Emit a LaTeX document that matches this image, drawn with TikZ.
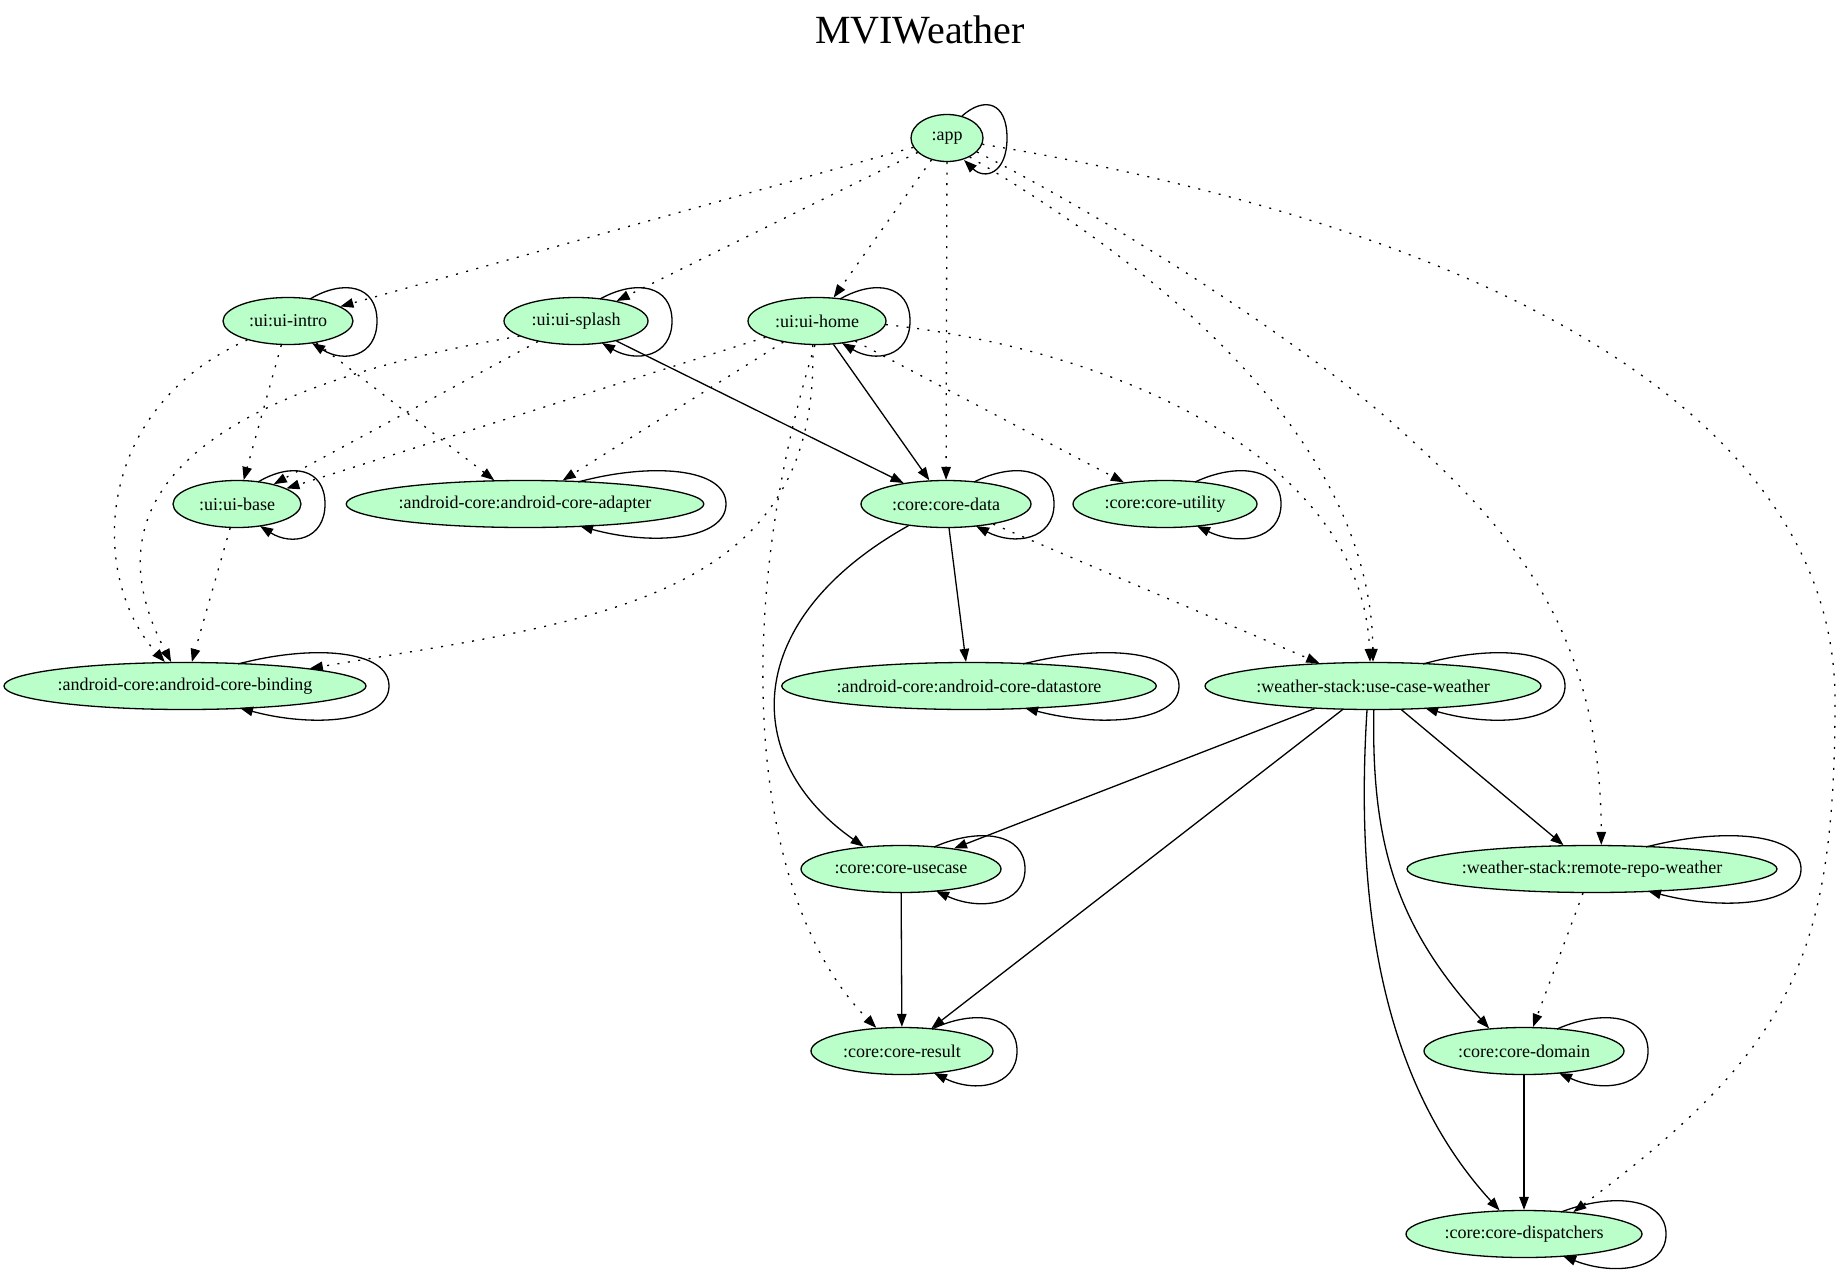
\documentclass[tikz,border=0pt]{standalone}
\usepackage{fontspec}
\setmainfont{Liberation Serif}
\usetikzlibrary{shapes.geometric,arrows.meta}
\definecolor{modfill}{HTML}{BAFFC9}
\newcommand{\selfloop}[3]{%
  \draw[soledge] ([shift={(#2,-22)}]#1.center)
    .. controls ([shift={({#2+0.5*(#3-#2)},-42)}]#1.center) and ([shift={(#3,-36)}]#1.center)
    .. ([shift={(#3,0)}]#1.center)
    .. controls ([shift={(#3,36)}]#1.center) and ([shift={({#2+0.5*(#3-#2)},42)}]#1.center)
    .. ([shift={({#2+2},22)}]#1.center);}
\begin{document}
\begin{tikzpicture}[x=1pt,y=-1pt,
  mod/.style={ellipse, draw, line width=1.3pt, fill=modfill, inner sep=0pt,
    minimum height=47pt, font=\fontsize{18}{21}\selectfont},
  soledge/.style={line width=1.3pt, -{Triangle[length=13pt,width=9.5pt]}},
  dotedge/.style={soledge, dash pattern=on 2pt off 8.5pt}]
\useasboundingbox (0,0) rectangle (1843,1274);
\fill[white] (0,0) rectangle (1843,1274);

\node[anchor=base, font=\fontsize{40}{48}\selectfont] (title) at (920,43) {MVIWeather};

\node[mod, minimum width=72pt]  (app)       at (947,138)  {:app};
\node[mod, minimum width=130pt] (intro)     at (288,321)  {:ui:ui-intro};
\node[mod, minimum width=144pt] (splash)    at (576,321)  {:ui:ui-splash};
\node[mod, minimum width=138pt] (home)      at (817,321)  {:ui:ui-home};
\node[mod, minimum width=128pt] (base)      at (237,504)  {:ui:ui-base};
\node[mod, minimum width=354pt] (adapter)   at (525,504)  {:android-core:android-core-adapter};
\node[mod, minimum width=170pt] (cdata)     at (946,504)  {:core:core-data};
\node[mod, minimum width=184pt] (cutil)     at (1165,504) {:core:core-utility};
\node[mod, minimum width=362pt] (binding)   at (185,686)  {:android-core:android-core-binding};
\node[mod, minimum width=372pt] (datastore) at (969,686)  {:android-core:android-core-datastore};
\node[mod, minimum width=336pt] (ucw)       at (1373,686) {:weather-stack:use-case-weather};
\node[mod, minimum width=200pt] (usecase)   at (901,869)  {:core:core-usecase};
\node[mod, minimum width=370pt] (remote)    at (1592,869) {:weather-stack:remote-repo-weather};
\node[mod, minimum width=182pt] (result)    at (902,1051) {:core:core-result};
\node[mod, minimum width=200pt] (domain)    at (1524,1051) {:core:core-domain};
\node[mod, minimum width=236pt] (disp)      at (1524,1234) {:core:core-dispatchers};

% self loops
\selfloop{app}{15}{60}
\selfloop{intro}{22}{89}
\selfloop{splash}{24}{96}
\selfloop{home}{23}{93}
\selfloop{base}{21}{88}
\selfloop{adapter}{53}{201}
\selfloop{cdata}{28}{108}
\selfloop{cutil}{30}{116}
\selfloop{binding}{53}{204}
\selfloop{datastore}{54}{210}
\selfloop{ucw}{50}{192}
\selfloop{usecase}{33}{124}
\selfloop{remote}{54}{209}
\selfloop{result}{30}{115}
\selfloop{domain}{33}{124}
\selfloop{disp}{37}{142}

% app
\draw[dotedge] (app) -- (intro);
\draw[dotedge] (app) -- (splash);
\draw[dotedge] (app) -- (home);
\draw[dotedge] (app) -- (cdata);
\draw[dotedge] (app.-40) .. controls (1180,280) and (1371,450) .. (ucw.90);
\draw[dotedge] (app.-25) .. controls (1140,235) and (1317,355) .. (1397,427)
  .. controls (1500,520) and (1601,620) .. (remote.69);
\draw[dotedge] (app.-10) .. controls (1500,230) and (1835,420) .. (1835,700)
  .. controls (1835,960) and (1790,1050) .. (disp.24);

% ui-intro
\draw[dotedge] (intro.-155) .. controls (90,410) and (90,580) .. (binding.130);
\draw[dotedge] (intro) -- (base);
\draw[dotedge] (intro) -- (adapter);

% ui-splash
\draw[dotedge] (splash.-165) .. controls (260,380) and (70,470) .. (binding.120);
\draw[dotedge] (splash) -- (base);
\draw[soledge] (splash) -- (cdata);

% ui-home
\draw[dotedge] (home) -- (base);
\draw[dotedge] (home) -- (adapter);
\draw[dotedge] (home.-100) .. controls (820,600) and (600,620) .. (binding.8);
\draw[dotedge] (home.-95) .. controls (730,620) and (750,900) .. (result.138);
\draw[soledge] (home) -- (cdata);
\draw[dotedge] (home) -- (cutil);
\draw[dotedge] (home.-3) .. controls (1120,350) and (1362,460) .. (ucw.97);

% ui-base
\draw[dotedge] (base) -- (binding);

% core-data
\draw[soledge] (cdata) -- (datastore);
\draw[soledge] (cdata.-150) .. controls (740,620) and (740,760) .. (usecase.149);
\draw[dotedge] (cdata) -- (ucw);

% use-case-weather
\draw[soledge] (ucw) -- (usecase);
\draw[soledge] (ucw) -- (result);
\draw[soledge] (ucw) -- (remote);
\draw[soledge] (ucw.-88) .. controls (1371,850) and (1400,930) .. (domain.147);
\draw[soledge] (ucw.-104) .. controls (1355,900) and (1380,1080) .. (disp.136);

% others
\draw[dotedge] (remote) -- (domain);
\draw[soledge] (usecase) -- (result);
\draw[soledge] (domain) -- (disp);
\end{tikzpicture}
\end{document}
